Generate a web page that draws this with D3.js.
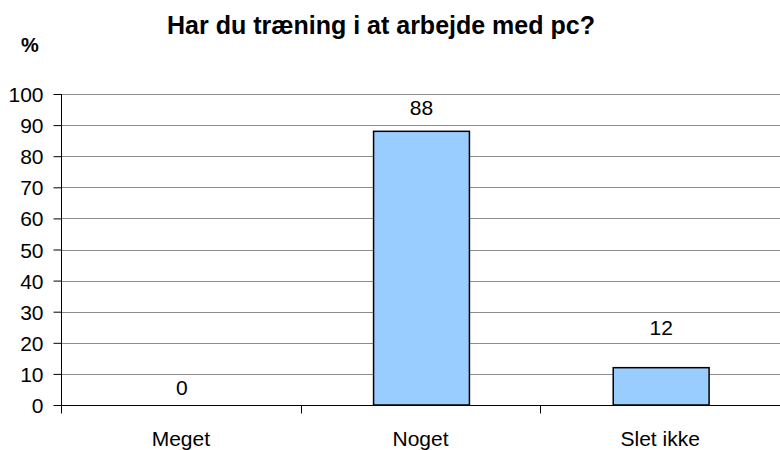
<!DOCTYPE html>
<html>
<head>
<meta charset="utf-8">
<script src="https://cdn.jsdelivr.net/npm/d3@7"></script>
<style>
    body { margin: 0; background: #fff; }
    text { font-family: "Liberation Sans", Arial, sans-serif; fill: #000; }
</style>
</head>
<body>
<div id="chart"></div>
<script>
var categories = ["Meget", "Noget", "Slet ikke"];
var values = [0, 88, 12];
var yTicks = [0, 10, 20, 30, 40, 50, 60, 70, 80, 90, 100];
// distance of each value label above its bar top
var labelGap = [10, 16, 33];

var width = 780,
    height = 450,
    margin = {top: 94, right: 0, bottom: 45, left: 61};

var svg = d3.select("#chart")
    .append("svg")
    .attr("width", width)
    .attr("height", height);

var x = d3.scaleBand()
    .domain(categories)
    .range([margin.left, width])
    .paddingInner(0.6)
    .paddingOuter(0.3);

var bandX = d3.scaleBand()
    .domain(categories)
    .range([margin.left, width]);

var y = d3.scaleLinear()
    .domain([0, 100])
    .range([height - margin.bottom, margin.top]);

// Grid lines
svg.append("g")
    .selectAll("line")
    .data(yTicks.filter(function (d) { return d > 0; }))
    .enter()
    .append("line")
    .attr("x1", margin.left)
    .attr("x2", width)
    .attr("y1", function (d) { return Math.round(y(d)) + 0.5; })
    .attr("y2", function (d) { return Math.round(y(d)) + 0.5; })
    .style("stroke", "#8c8c8c")
    .style("stroke-width", 1);

// Bars
svg.append("g")
    .selectAll("rect")
    .data(values)
    .enter()
    .append("rect")
    .attr("x", function (d, i) { return x(categories[i]) + 1; })
    .attr("width", x.bandwidth())
    .attr("y", function (d) { return y(d); })
    .attr("height", function (d) { return y(0) - y(d); })
    .style("fill", "#99ccff")
    .style("stroke", "#000")
    .style("stroke-width", 1.5);

// Value labels
svg.append("g")
    .selectAll("text")
    .data(values)
    .enter()
    .append("text")
    .attr("x", function (d, i) { return x(categories[i]) + x.bandwidth() / 2 + 1; })
    .attr("y", function (d, i) { return y(d) - labelGap[i]; })
    .attr("text-anchor", "middle")
    .style("font-size", "21px")
    .text(function (d) { return d; });

// Y axis
var yAxis = svg.append("g")
    .attr("transform", "translate(" + (margin.left + 0.5) + ",0)")
    .call(d3.axisLeft(y).tickValues(yTicks).tickSize(8).tickPadding(10));
yAxis.selectAll("text").style("font-size", "21px").attr("dy", "0.36em");
yAxis.select(".domain").attr("d", "M0," + y(100) + "V" + y(0)).style("stroke", "#000");
yAxis.selectAll(".tick line").style("stroke", "#000");

// X axis
var xAxis = svg.append("g")
    .attr("transform", "translate(0," + (Math.round(y(0)) + 0.5) + ")");
xAxis.append("line")
    .attr("x1", margin.left)
    .attr("x2", width)
    .style("stroke", "#000");
xAxis.selectAll(".sep")
    .data(categories)
    .enter()
    .append("line")
    .attr("class", "sep")
    .attr("x1", function (d) { return Math.round(bandX(d)) + 0.5; })
    .attr("x2", function (d) { return Math.round(bandX(d)) + 0.5; })
    .attr("y1", 0)
    .attr("y2", 8)
    .style("stroke", "#000");
xAxis.selectAll(".cat")
    .data(categories)
    .enter()
    .append("text")
    .attr("class", "cat")
    .attr("x", function (d) { return bandX(d) + bandX.bandwidth() / 2; })
    .attr("y", 40)
    .attr("text-anchor", "middle")
    .style("font-size", "21px")
    .text(function (d) { return d; });

// Title and unit
svg.append("text")
    .attr("x", 381)
    .attr("y", 34)
    .attr("text-anchor", "middle")
    .style("font-size", "25px")
    .style("font-weight", "bold")
    .text("Har du træning i at arbejde med pc?");

svg.append("text")
    .attr("x", 30)
    .attr("y", 52)
    .attr("text-anchor", "middle")
    .style("font-size", "20px")
    .style("font-weight", "bold")
    .text("%");
</script>
</body>
</html>
